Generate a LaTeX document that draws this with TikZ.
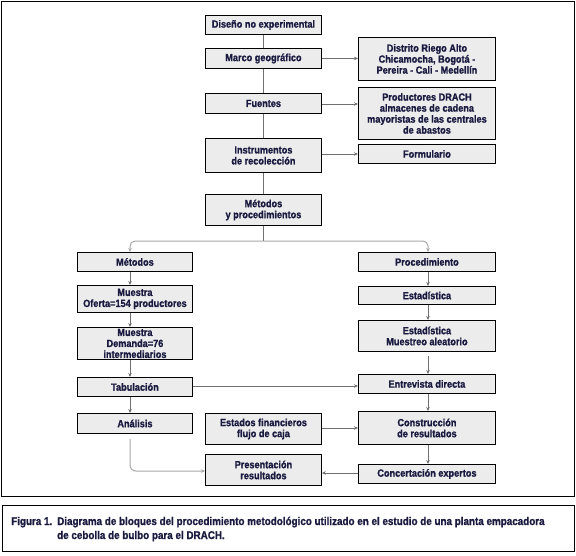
\documentclass[tikz,border=0pt]{standalone}
\usepackage{fontspec}
\setmainfont{Liberation Sans}[FakeStretch=0.88]
\usetikzlibrary{arrows.meta}
\definecolor{txt}{HTML}{1A1A40}
\definecolor{boxfill}{HTML}{ECECEC}
\definecolor{conn}{HTML}{707070}
\definecolor{branch}{HTML}{A8A8A8}
\newfontfamily\boxfont{Liberation Sans}[FakeStretch=0.88, FakeBold=1.2]
\tikzset{
  blk/.style={draw=black, line width=0.9pt, fill=boxfill, text=txt, font=\boxfont\bfseries\fontsize{10.4}{11}\selectfont, align=center, inner sep=0pt, anchor=north west},
  conn/.style={draw=conn, line width=0.8pt, -{Stealth[length=4pt,width=3.5pt]}},
  plain/.style={draw=conn, line width=0.8pt},
  br/.style={draw=branch, line width=1pt, rounded corners=5pt, -{Stealth[length=4pt,width=3.5pt,fill=conn]}},
  captxt/.style={anchor=base west, text=txt, font=\boxfont\bfseries\fontsize{11.2}{12}\selectfont, inner sep=0pt}
}
\newcommand{\blkbox}[6]{% name, x1,y1,x2,y2, text
  \node[blk, minimum width={#4-#2}, minimum height={#5-#3}] (#1) at (#2,#3) {#6};}
\begin{document}
\begin{tikzpicture}[x=1pt,y=-1pt]
\useasboundingbox (0,0) rectangle (576,555);
\draw[line width=1pt] (1,1) rectangle (574,496);
\draw[line width=1pt] (2,505) rectangle (574,551);
% centre column
\blkbox{dis}{205}{15}{321}{34}{Diseño no experimental}
\blkbox{mar}{205}{48}{321}{68}{Marco geográfico}
\blkbox{fue}{205}{93}{321}{113}{Fuentes}
\blkbox{ins}{205}{138}{321}{172}{Instrumentos\\de recolección}
\blkbox{met}{205}{194}{321}{225}{Métodos\\y procedimientos}
% right top
\blkbox{dri}{358}{37}{495}{80}{Distrito Riego Alto\\Chicamocha, Bogotá -\\Pereira - Cali - Medellín}
\blkbox{pro}{358}{87}{495}{139}{Productores DRACH\\almacenes de cadena\\mayoristas de las centrales\\de abastos}
\blkbox{for}{358}{144}{495}{163}{Formulario}
% left column
\blkbox{mts}{77}{252}{192}{271}{Métodos}
\blkbox{mof}{77}{285}{192}{312}{Muestra\\Oferta=154 productores}
\blkbox{mde}{77}{327}{192}{359}{Muestra\\Demanda=76\\intermediarios}
\blkbox{tab}{77}{377}{192}{396}{Tabulación}
\blkbox{ana}{77}{413}{192}{433}{Análisis}
% middle bottom
\blkbox{est}{205}{413}{321}{444}{Estados financieros\\flujo de caja}
\blkbox{pre}{205}{454}{321}{485}{Presentación\\resultados}
% right column
\blkbox{prc}{358}{252}{495}{271}{Procedimiento}
\blkbox{es1}{358}{286}{495}{304}{Estadística}
\blkbox{es2}{358}{320}{495}{351}{Estadística\\Muestreo aleatorio}
\blkbox{ent}{358}{374}{495}{393}{Entrevista directa}
\blkbox{con}{358}{411}{495}{444}{Construcción\\de resultados}
\blkbox{cex}{358}{464}{495}{483}{Concertación expertos}
% centre spine
\draw[plain] (dis.south) -- (mar.north);
\draw[plain] (mar.south) -- (fue.north);
\draw[plain] (fue.south) -- (ins.north);
\draw[plain] (ins.south) -- (met.north);
\coordinate (bj) at (met.south |- 0,241);
\draw[plain] (met.south) -- (bj);
\draw[br] (bj) -| (mts.north -| 130,0);
\draw[br] (bj) -| (prc.north -| 428,0);
% right arrows
\draw[conn] (mar.east) -- (mar.east -| dri.west);
\draw[conn] (fue.east |- 0,104) -- (pro.west |- 0,104);
\draw[conn] (ins.east |- 0,154) -- (for.west |- 0,154);
% left column arrows
\draw[conn] (mts.south -| 130,0) -- (mof.north -| 130,0);
\draw[conn] (mof.south -| 130,0) -- (mde.north -| 130,0);
\draw[conn] (mde.south -| 130,0) -- (tab.north -| 130,0);
\draw[conn] (tab.south -| 130,0) -- (ana.north -| 130,0);
\draw[draw=branch, line width=1pt, rounded corners=6pt, -{Stealth[length=4pt,width=3.5pt,fill=conn]}] (ana.south -| 130,0) ++(0,5) |- (pre.west |- 0,471);
% right column arrows
\draw[conn] (prc.south -| 428,0) -- (es1.north -| 428,0);
\draw[conn] (es1.south -| 428,0) -- (es2.north -| 428,0);
\draw[conn] (es2.south -| 428,0) ++(0,4) -- (ent.north -| 428,0);
\draw[conn] (ent.south -| 428,0) -- (con.north -| 428,0);
\draw[conn] (con.south -| 428,0) -- (cex.north -| 428,0);
% cross arrows
\draw[conn] (tab.east |- 0,386) -- (ent.west |- 0,386);
\draw[conn] (est.east |- 0,428) -- (con.west |- 0,428);
\draw[conn] (cex.west |- 0,473) -- (pre.east |- 0,473);
% caption
\node[captxt] (cap1) at (11,525) {Figura 1.};
\node[captxt] (cap2) at (57,525) {Diagrama de bloques del procedimiento metodológico utilizado en el estudio de una planta empacadora};
\node[captxt] (cap3) at (57,539) {de cebolla de bulbo para el DRACH.};
\end{tikzpicture}
\end{document}
